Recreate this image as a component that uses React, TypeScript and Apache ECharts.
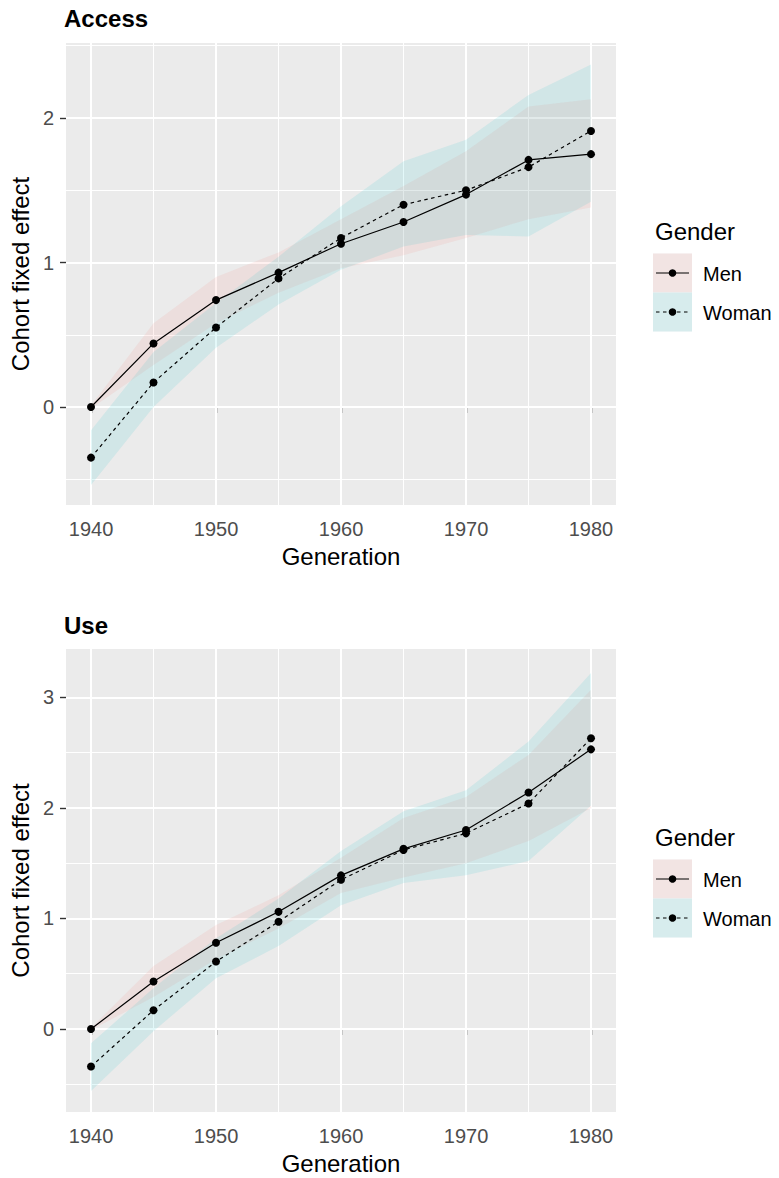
import React, { useEffect, useRef } from "react";
import * as echarts from "echarts";

// ---------- data ----------
const years = [1940, 1945, 1950, 1955, 1960, 1965, 1970, 1975, 1980];

const accessMen = [0, 0.44, 0.74, 0.93, 1.13, 1.28, 1.47, 1.71, 1.75];
const accessMenLo = [-0.01, 0.29, 0.58, 0.79, 0.96, 1.05, 1.17, 1.3, 1.38];
const accessMenHi = [0.01, 0.58, 0.9, 1.07, 1.3, 1.53, 1.77, 2.08, 2.13];
const accessWoman = [-0.35, 0.17, 0.55, 0.89, 1.17, 1.4, 1.5, 1.66, 1.91];
const accessWomanLo = [-0.54, 0.0, 0.41, 0.71, 0.95, 1.11, 1.19, 1.18, 1.42];
const accessWomanHi = [-0.16, 0.38, 0.72, 1.04, 1.39, 1.7, 1.85, 2.16, 2.37];

const useMen = [0, 0.43, 0.78, 1.06, 1.39, 1.63, 1.8, 2.14, 2.53];
const useMenLo = [-0.01, 0.29, 0.63, 0.91, 1.23, 1.37, 1.5, 1.7, 2.0];
const useMenHi = [0.01, 0.57, 0.94, 1.21, 1.55, 1.91, 2.1, 2.48, 3.07];
const useWoman = [-0.34, 0.17, 0.61, 0.97, 1.35, 1.62, 1.77, 2.04, 2.63];
const useWomanLo = [-0.56, -0.02, 0.46, 0.75, 1.12, 1.32, 1.39, 1.52, 2.02];
const useWomanHi = [-0.13, 0.37, 0.82, 1.18, 1.61, 1.97, 2.16, 2.6, 3.22];

const xTicks = [1940, 1950, 1960, 1970, 1980];
const xMinor = [1945, 1955, 1965, 1975];
const accessYTicks = [0, 1, 2];
const accessYMinor = [-0.5, 0.5, 1.5, 2.5];
const useYTicks = [0, 1, 2, 3];
const useYMinor = [-0.5, 0.5, 1.5, 2.5];

const panelTitles = ["Access", "Use"];
const legendTitle = "Gender";
const groups = ["Men", "Woman"];

// ---------- style ----------
const FONT = '"Liberation Sans", Arial, Helvetica, sans-serif';
const PINK = "rgba(248,118,109,0.11)";
const TEAL = "rgba(0,191,196,0.11)";
const panels = [
  { top: 43, height: 462, yMin: -0.678, yMax: 2.519 },
  { top: 649, height: 463, yMin: -0.751, yMax: 3.438 },
];
const GRID_LEFT = 64;
const GRID_WIDTH = 552;

function ribbon(g: number, lo: number[], hi: number[], color: string) {
  const data = years.map((x, i) => [x, lo[i], hi[i]]);
  return {
    type: "custom",
    xAxisIndex: g,
    yAxisIndex: g,
    z: 2,
    silent: true,
    data,
    encode: { x: 0, y: [1, 2] },
    renderItem: (params: any, api: any) => {
      if (params.dataIndex !== 0) return null;
      const up = data.map((d) => api.coord([d[0], d[2]]));
      const dn = data.map((d) => api.coord([d[0], d[1]])).reverse();
      return {
        type: "polygon",
        shape: { points: up.concat(dn) },
        style: { fill: color, stroke: "none" },
        silent: true,
      };
    },
  };
}

function lineSeries(g: number, vals: number[], dashed: boolean) {
  return {
    type: "line",
    xAxisIndex: g,
    yAxisIndex: g,
    z: 4,
    silent: true,
    data: years.map((x, i) => [x, vals[i]]),
    symbol: "circle",
    symbolSize: 8,
    showSymbol: true,
    itemStyle: { color: "#000", borderWidth: 0 },
    lineStyle: { color: "#000", width: 1.2, type: dashed ? [3.5, 3.5] : "solid" },
  };
}

function gridLines(g: number, yMajor: number[], yMinor: number[]) {
  const mk = (key: string, v: number, w: number) => ({
    [key]: v,
    lineStyle: { color: "#FFFFFF", width: w, type: "solid" },
  });
  return {
    type: "line",
    xAxisIndex: g,
    yAxisIndex: g,
    z: 1,
    silent: true,
    data: [[years[0], yMajor[0]]],
    symbol: "none",
    lineStyle: { width: 0, opacity: 0 },
    markLine: {
      z: 1,
      silent: true,
      symbol: ["none", "none"],
      label: { show: false },
      emphasis: { disabled: true },
      animation: false,
      data: [
        ...yMinor.map((v) => mk("yAxis", v, 1)),
        ...xMinor.map((v) => mk("xAxis", v, 1)),
        ...yMajor.map((v) => mk("yAxis", v, 2)),
        ...xTicks.map((v) => mk("xAxis", v, 2)),
      ],
    },
  };
}

function legendGraphics(dy: number) {
  const items: any[] = [];
  items.push({
    type: "text",
    style: {
      text: legendTitle,
      x: 655,
      y: 231 + dy,
      fill: "#000",
      fontSize: 24,
      fontFamily: FONT,
      verticalAlign: "middle",
      align: "left",
    },
  });
  const fills = [PINK, TEAL];
  groups.forEach((name, i) => {
    const top = 253.5 + dy + i * 39;
    const cy = top + 19.5;
    items.push({ type: "rect", shape: { x: 653, y: top, width: 39, height: 39 }, style: { fill: "#F2F2F2" } });
    items.push({ type: "rect", shape: { x: 653, y: top, width: 39, height: 39 }, style: { fill: fills[i] } });
    items.push({
      type: "line",
      shape: { x1: 656, y1: cy, x2: 689, y2: cy },
      style: { stroke: "#000", lineWidth: 1.2, lineDash: i === 1 ? [3.5, 3.5] : null },
    });
    items.push({ type: "circle", shape: { cx: 672.5, cy, r: 3.8 }, style: { fill: "#000" } });
    items.push({
      type: "text",
      style: {
        text: name,
        x: 703,
        y: cy + 1,
        fill: "#000",
        fontSize: 20,
        fontFamily: FONT,
        verticalAlign: "middle",
        align: "left",
      },
    });
  });
  return items;
}

export default function App() {
  const ref = useRef<HTMLDivElement>(null);
  useEffect(() => {
    if (!ref.current) return;
    const chart = echarts.init(ref.current, undefined, { renderer: "svg" });
    const yTickSets = [accessYTicks, useYTicks];
    const yMinorSets = [accessYMinor, useYMinor];

    const option: any = {
      animation: false,
      backgroundColor: "#FFFFFF",
      grid: panels.map((p) => ({
        left: GRID_LEFT,
        top: p.top,
        width: GRID_WIDTH,
        height: p.height,
        show: true,
        backgroundColor: "#EBEBEB",
        borderWidth: 0,
      })),
      xAxis: panels.map((_, g) => ({
        type: "value",
        gridIndex: g,
        min: 1938,
        max: 1982,
        axisLine: { show: false },
        axisTick: {
          show: true,
          customValues: xTicks,
          length: 6,
          lineStyle: { color: "#333333", width: 1.4 },
        },
        axisLabel: {
          show: true,
          customValues: xTicks,
          formatter: (v: number) => String(v),
          margin: 14,
          fontSize: 20,
          color: "#4D4D4D",
          fontFamily: FONT,
        },
        splitLine: { show: false },
        name: "Generation",
        nameLocation: "middle",
        nameGap: 39,
        nameTextStyle: { fontSize: 24, color: "#000", fontFamily: FONT },
      })),
      yAxis: panels.map((p, g) => ({
        type: "value",
        gridIndex: g,
        min: p.yMin,
        max: p.yMax,
        axisLine: { show: false },
        axisTick: {
          show: true,
          customValues: yTickSets[g],
          length: 6,
          lineStyle: { color: "#333333", width: 1.4 },
        },
        axisLabel: {
          show: true,
          customValues: yTickSets[g],
          formatter: (v: number) => String(v),
          margin: 12,
          fontSize: 20,
          color: "#4D4D4D",
          fontFamily: FONT,
        },
        splitLine: { show: false },
        name: "Cohort fixed effect",
        nameLocation: "middle",
        nameGap: 27,
        nameTextStyle: { fontSize: 24, color: "#000", fontFamily: FONT },
      })),
      graphic: [
        {
          type: "text",
          style: {
            text: panelTitles[0],
            x: 64,
            y: 18,
            fill: "#000",
            fontSize: 24,
            fontWeight: "bold",
            fontFamily: FONT,
            verticalAlign: "middle",
          },
        },
        {
          type: "text",
          style: {
            text: panelTitles[1],
            x: 64,
            y: 625,
            fill: "#000",
            fontSize: 24,
            fontWeight: "bold",
            fontFamily: FONT,
            verticalAlign: "middle",
          },
        },
        ...legendGraphics(0),
        ...legendGraphics(606),
      ],
      series: [
        gridLines(0, accessYTicks, yMinorSets[0]),
        gridLines(1, useYTicks, yMinorSets[1]),
        ribbon(0, accessMenLo, accessMenHi, PINK),
        ribbon(0, accessWomanLo, accessWomanHi, TEAL),
        ribbon(1, useMenLo, useMenHi, PINK),
        ribbon(1, useWomanLo, useWomanHi, TEAL),
        lineSeries(0, accessMen, false),
        lineSeries(0, accessWoman, true),
        lineSeries(1, useMen, false),
        lineSeries(1, useWoman, true),
      ],
    };
    chart.setOption(option);
    return () => chart.dispose();
  }, []);
  return (
    <div
      ref={ref}
      style={{ position: "absolute", left: 0, top: 0, width: 779, height: 1178 }}
    />
  );
}
